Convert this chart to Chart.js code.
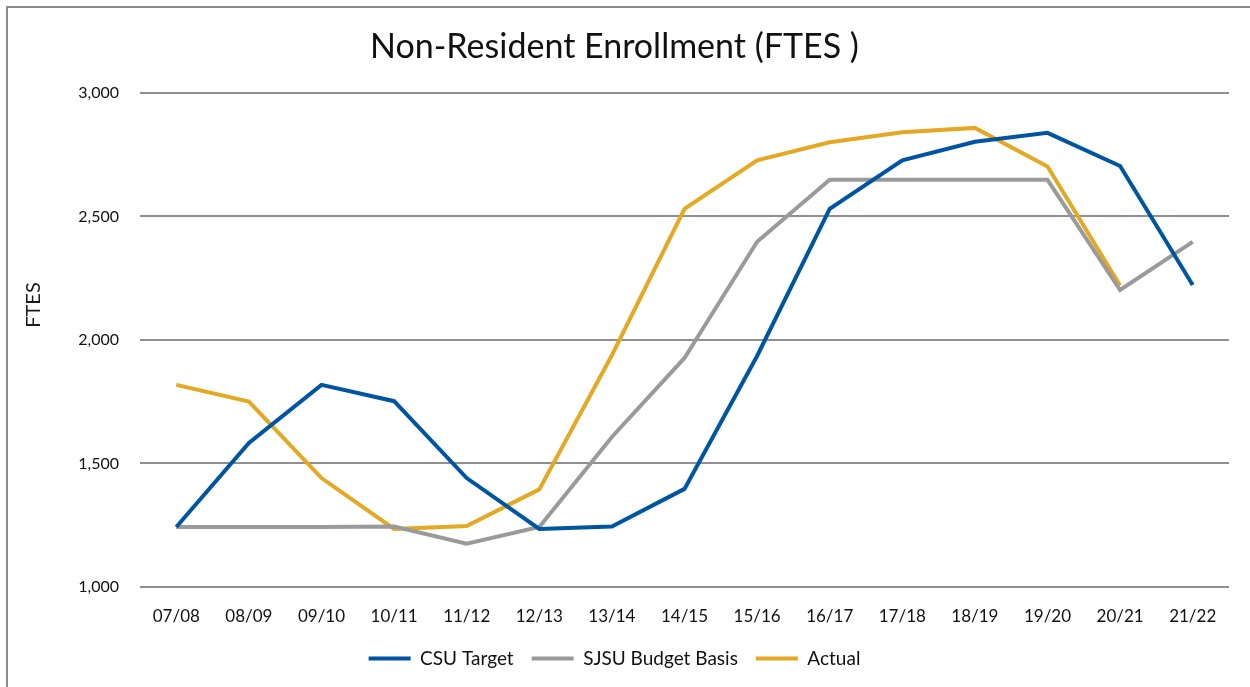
<!DOCTYPE html>
<html>
<head>
<meta charset="utf-8">
<script src="https://cdn.jsdelivr.net/npm/chart.js@4"></script>
<style>
  body { margin: 0; background: #fff; overflow: hidden; }
  #frame { position: absolute; left: 6px; top: 6px; width: 1400px; height: 800px; border: 2px solid #8c8c8c; }
  #wrap { position: absolute; left: 0; top: 0; width: 1250px; height: 687px; }
</style>
</head>
<body>
<div id="frame"></div>
<div id="wrap"><canvas id="myChart" width="1250" height="687"></canvas></div>
<script>
// chart data
var years = ['07/08', '08/09', '09/10', '10/11', '11/12', '12/13', '13/14', '14/15',
             '15/16', '16/17', '17/18', '18/19', '19/20', '20/21', '21/22'];
var csuTarget = [1243, 1583, 1818, 1752, 1441, 1235, 1245, 1397, 1935, 2530, 2727, 2802, 2838, 2704, 2222];
var sjsuBudget = [1243, 1243, 1243, 1245, 1175, 1243, 1607, 1927, 2397, 2648, 2648, 2648, 2648, 2202, 2397];
var actual = [1818, 1750, 1441, 1235, 1247, 1395, 1938, 2530, 2727, 2800, 2840, 2858, 2702, 2220, null];
var yTicks = [1000, 1500, 2000, 2500, 3000];

var fontFam = 'Lato, "Open Sans", sans-serif';

// draws the rotated "FTES" axis label
var axisLabel = {
  id: 'axisLabel',
  afterDraw: function(chart) {
    var ctx = chart.ctx;
    ctx.save();
    ctx.translate(34, 305);
    ctx.rotate(-Math.PI / 2);
    ctx.font = '20px ' + fontFam;
    ctx.fillStyle = '#1a1a1a';
    ctx.textAlign = 'center';
    ctx.textBaseline = 'middle';
    ctx.fillText('FTES', 0, 0);
    ctx.restore();
  }
};

function line(label, data, color) {
  return {
    label: label,
    data: data,
    borderColor: color,
    backgroundColor: color,
    borderWidth: 4,
    pointRadius: 0,
    tension: 0,
    spanGaps: false
  };
}

var ctx = document.getElementById('myChart').getContext('2d');
var myChart = new Chart(ctx, {
  type: 'line',
  data: {
    labels: years,
    datasets: [
      line('CSU Target', csuTarget, '#0055a2'),
      line('SJSU Budget Basis', sjsuBudget, '#9a9a9a'),
      line('Actual', actual, '#e5a823')
    ]
  },
  plugins: [axisLabel],
  options: {
    responsive: false,
    animation: false,
    layout: { padding: { left: 0, right: 21, top: 0, bottom: 9 } },
    plugins: {
      title: {
        display: true,
        text: 'Non-Resident Enrollment (FTES )',
        color: '#111',
        font: { family: fontFam, size: 34, weight: 'normal', lineHeight: 1.2 },
        padding: { top: 27, bottom: 25 }
      },
      legend: {
        position: 'bottom',
        labels: {
          usePointStyle: true,
          pointStyle: 'line',
          pointStyleWidth: 42,
          padding: 18,
          color: '#111',
          font: { family: fontFam, size: 19 }
        }
      },
      tooltip: { enabled: false }
    },
    scales: {
      x: {
        offset: true,
        grid: { display: false },
        border: { display: false },
        ticks: {
          color: '#111',
          padding: 11,
          maxRotation: 0,
          font: { family: fontFam, size: 17 }
        },
        afterFit: function(scale) { scale.height = 44; }
      },
      y: {
        min: 1000,
        max: 3000,
        afterBuildTicks: function(scale) {
          scale.ticks = yTicks.map(function(v) { return { value: v }; });
        },
        grid: { color: '#8f8f8f', lineWidth: 2, drawTicks: false },
        border: { display: false },
        ticks: {
          color: '#111',
          padding: 21,
          font: { family: fontFam, size: 16 },
          callback: function(v) { return v.toLocaleString('en-US'); }
        },
        afterFit: function(scale) { scale.width = 140; }
      }
    }
  }
});
</script>
</body>
</html>
